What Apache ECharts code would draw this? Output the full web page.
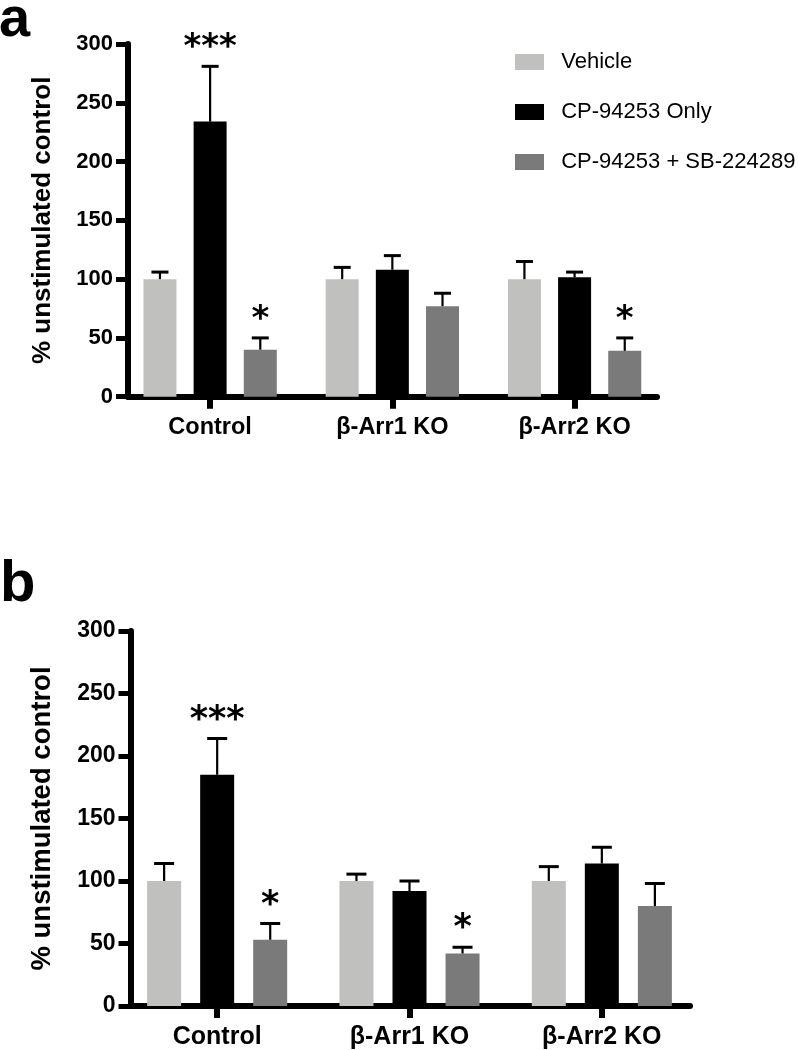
<!DOCTYPE html>
<html>
<head>
<meta charset="utf-8">
<script src="https://cdn.jsdelivr.net/npm/echarts@6/dist/echarts.min.js"></script>
<style>
html,body{margin:0;padding:0;background:#fff;}
#chart{width:798px;height:1050px;}
</style>
</head>
<body>
<div id="chart"></div>
<script>
// ---------- data ----------
const categories = ['Control', 'β-Arr1 KO', 'β-Arr2 KO'];
const seriesNames = ['Vehicle', 'CP-94253 Only', 'CP-94253 + SB-224289'];
const yTicks = [0, 50, 100, 150, 200, 250, 300];

// Panel a
const aVehicle = [100, 100, 100];
const aVehicleSem = [6, 10, 15];
const aCpOnly = [234, 108, 101.5];
const aCpOnlySem = [47, 12, 4.5];
const aCpSb = [40, 77, 39];
const aCpSbSem = [10, 11, 11];
const aVehicleSig = ['', '', ''];
const aCpOnlySig = ['***', '', ''];
const aCpSbSig = ['*', '', '*'];

// Panel b
const bVehicle = [100, 100, 100];
const bVehicleSem = [14, 5.5, 11.5];
const bCpOnly = [185, 92, 114];
const bCpOnlySem = [29, 8, 13];
const bCpSb = [53, 42, 80];
const bCpSbSem = [13, 5, 18];
const bVehicleSig = ['', '', ''];
const bCpOnlySig = ['***', '', ''];
const bCpSbSig = ['*', '*', ''];

const colors = ['#c0c0be', '#000000', '#7a7a7a'];
const FONT = '"Liberation Sans", Arial, Helvetica, sans-serif';

// ---------- build ----------
const chart = echarts.init(document.getElementById('chart'), null, {renderer: 'canvas'});

const panels = [
  {
    means: [aVehicle, aCpOnly, aCpSb], sems: [aVehicleSem, aCpOnlySem, aCpSbSem], sigs: [aVehicleSig, aCpOnlySig, aCpSbSig],
    grid: {left: 119, width: 546.7, top: 44, height: 352.7},
    frame: {left: 128, width: 529, top: 44, height: 352.7},
    yOffset: -9, barWidth: 33, gap: 0.52, cap: 17,
    tickFont: 22, catFont: 23.5, catMargin: 19, nameFont: 26, nameGap: 72, starFont: 34
  },
  {
    means: [bVehicle, bCpOnly, bCpSb], sems: [bVehicleSem, bCpOnlySem, bCpSbSem], sigs: [bVehicleSig, bCpOnlySig, bCpSbSig],
    grid: {left: 121, width: 577, top: 631, height: 375},
    frame: {left: 130.5, width: 559.5, top: 631, height: 375},
    yOffset: -9.5, barWidth: 34, gap: 0.56, cap: 20,
    tickFont: 23, catFont: 25, catMargin: 19, nameFont: 27.5, nameGap: 74, starFont: 35
  }
];

const grid = [], xAxis = [], yAxis = [], series = [];

panels.forEach((p, pi) => {
  const gMain = grid.length;
  grid.push(p.grid);
  grid.push(p.frame);
  // main axes
  xAxis.push({
    gridIndex: gMain, type: 'category', data: categories,
    axisLine: {show: false},
    axisTick: {show: true, alignWithLabel: true, length: 12, lineStyle: {color: '#000', width: 6}},
    axisLabel: {color: '#000', fontFamily: FONT, fontWeight: 'bold', fontSize: p.catFont, margin: p.catMargin}
  });
  yAxis.push({
    gridIndex: gMain, type: 'value', min: yTicks[0], max: yTicks[yTicks.length - 1], interval: yTicks[1] - yTicks[0],
    offset: p.yOffset,
    name: '% unstimulated control', nameLocation: 'middle', nameGap: p.nameGap,
    nameTextStyle: {color: '#000', fontFamily: FONT, fontWeight: 'bold', fontSize: p.nameFont},
    axisLine: {show: true, lineStyle: {color: '#000', width: 6}},
    axisTick: {show: true, length: 12, lineStyle: {color: '#000', width: 5}},
    axisLabel: {color: '#000', fontFamily: FONT, fontWeight: 'bold', fontSize: p.tickFont, margin: 15},
    splitLine: {show: false}
  });
  // frame axes (x axis line only)
  xAxis.push({
    gridIndex: gMain + 1, type: 'value', min: 0, max: 1,
    axisLine: {show: true, onZero: false, lineStyle: {color: '#000', width: 6}},
    axisTick: {show: false}, axisLabel: {show: false}, splitLine: {show: false}
  });
  yAxis.push({gridIndex: gMain + 1, type: 'value', show: false, min: 0, max: 1});

  const xi = xAxis.length - 2, yi = yAxis.length - 2;
  seriesNames.forEach((name, si) => {
    series.push({
      name: name, type: 'bar', xAxisIndex: xi, yAxisIndex: yi,
      data: p.means[si], barWidth: p.barWidth, barGap: (p.gap * 100) + '%',
      itemStyle: {color: colors[si]}, z: 2, animation: false
    });
  });
  // error bars + significance
  const errData = [], sigList = [];
  seriesNames.forEach((name, si) => {
    categories.forEach((c, ci) => {
      errData.push([ci, si, p.means[si][ci], p.means[si][ci] + p.sems[si][ci]]);
      sigList.push(p.sigs[si][ci]);
    });
  });
  const step = p.barWidth * (1 + p.gap);
  series.push({
    type: 'custom', xAxisIndex: xi, yAxisIndex: yi, z: 5, clip: false, animation: false,
    silent: true,
    encode: {x: 0, y: 3},
    data: errData,
    renderItem: function (params, api) {
      const ci = api.value(0), si = api.value(1), mean = api.value(2), top = api.value(3);
      const c0 = api.coord([ci, mean]);
      const c1 = api.coord([ci, top]);
      const x = c0[0] + (si - 1) * step;
      const children = [
        {type: 'line', shape: {x1: x, y1: c0[1], x2: x, y2: c1[1]}, style: {stroke: '#000', lineWidth: 2.2}},
        {type: 'line', shape: {x1: x - p.cap / 2, y1: c1[1], x2: x + p.cap / 2, y2: c1[1]}, style: {stroke: '#000', lineWidth: 3}}
      ];
      const sig = sigList[params.dataIndex];
      if (sig) {
        children.push({
          type: 'text', x: x, y: c1[1] - 18,
          style: {text: sig, fill: '#000', font: 'bold ' + p.starFont + 'px "DejaVu Sans", sans-serif', align: 'center', verticalAlign: 'middle'}
        });
      }
      return {type: 'group', children: children};
    }
  });
});

chart.setOption({
  animation: false,
  backgroundColor: '#fff',
  title: [
    {text: 'a', left: -1, top: -7, padding: 0, textStyle: {fontFamily: FONT, fontWeight: 'bold', fontSize: 56, color: '#000'}},
    {text: 'b', left: 0, top: 556, padding: 0, textStyle: {fontFamily: FONT, fontWeight: 'bold', fontSize: 58, color: '#000'}}
  ],
  legend: {
    data: seriesNames, orient: 'vertical', left: 515, top: 51, padding: 0,
    icon: 'rect', itemWidth: 29, itemHeight: 16, itemGap: 28,
    formatter: n => '  ' + n,
    textStyle: {fontFamily: FONT, fontSize: 22, color: '#000'}
  },
  grid: grid, xAxis: xAxis, yAxis: yAxis, series: series
});
</script>
</body>
</html>
